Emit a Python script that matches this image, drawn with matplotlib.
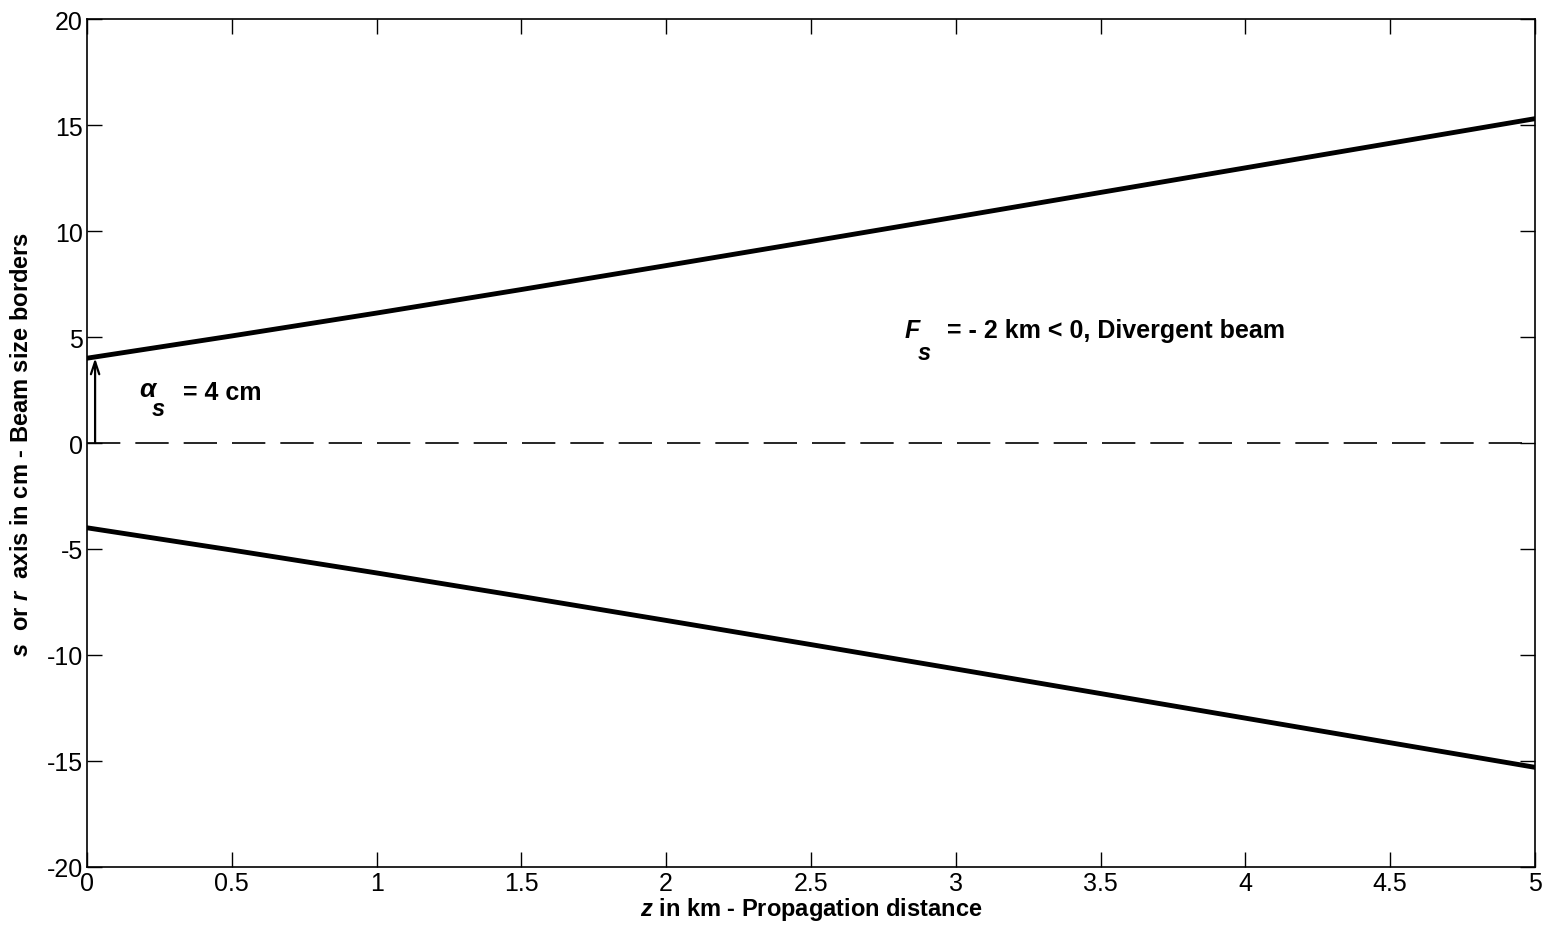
import matplotlib.pyplot as plt
import numpy as np

plt.rcParams['font.family'] = ['Liberation Sans', 'DejaVu Sans']
plt.rcParams['mathtext.fontset'] = 'custom'
plt.rcParams['mathtext.rm'] = 'Liberation Sans:bold'
plt.rcParams['mathtext.it'] = 'Liberation Sans:bold:italic'
plt.rcParams['mathtext.bf'] = 'Liberation Sans:bold'
plt.rcParams['axes.unicode_minus'] = False

# beam border values (cm) vs distance (km)
z = [0, 0.5, 1, 1.5, 2, 2.5, 3, 3.5, 4, 4.5, 5]
upper = [4.0, 5.05, 6.13, 7.24, 8.37, 9.51, 10.66, 11.82, 12.98, 14.14, 15.3]
lower = [-4.0, -5.05, -6.13, -7.24, -8.37, -9.51, -10.66, -11.82, -12.98, -14.14, -15.3]
xticks = [0, 0.5, 1, 1.5, 2, 2.5, 3, 3.5, 4, 4.5, 5]
xticklabels = ['0', '0.5', '1', '1.5', '2', '2.5', '3', '3.5', '4', '4.5', '5']
yticks = [-20, -15, -10, -5, 0, 5, 10, 15, 20]
a_s = 4

fig = plt.figure(figsize=(15.56, 9.28), dpi=100)
ax = fig.add_axes([0.0559, 0.0647, 0.9306, 0.9137])

ax.plot(z, upper, color='black', lw=3.5)
ax.plot(z, lower, color='black', lw=3.5)
ax.plot([0, 5], [0, 0], color='black', lw=1.2, dashes=(20, 9))

ax.annotate('', xy=(0.028, a_s), xytext=(0.028, 0),
            arrowprops=dict(arrowstyle='->,head_length=0.9,head_width=0.3',
                            color='black', lw=1.6, shrinkA=0, shrinkB=0))

ax.text(0.18, 2.55, r'$\alpha$', fontsize=19, va='center', ha='left')
ax.text(0.22, 1.6, r'$s$', fontsize=17, va='center', ha='left')
ax.text(0.33, 2.4, '= 4 cm', fontsize=18, fontweight='bold', va='center', ha='left')

ax.text(2.82, 5.35, r'$F$', fontsize=18, va='center', ha='left')
ax.text(2.865, 4.25, r'$s$', fontsize=17, va='center', ha='left')
ax.text(2.97, 5.35, '= - 2 km < 0, Divergent beam', fontsize=18, fontweight='bold',
        va='center', ha='left')

ax.set_xlim(0, 5)
ax.set_ylim(-20, 20)
ax.set_xticks(xticks)
ax.set_xticklabels(xticklabels)
ax.set_yticks(yticks)
ax.tick_params(direction='in', length=11, width=1, top=True, right=True,
               labelsize=18, pad=3)
for s in ax.spines.values():
    s.set_linewidth(1.2)

ax.set_xlabel(r'$z$ in km - Propagation distance', fontsize=17, fontweight='bold', labelpad=0)
ax.set_ylabel(r'$s$  or $r$  axis in cm - Beam size borders', fontsize=17,
              fontweight='bold', labelpad=10)

fig.savefig('out.png', dpi=100)
